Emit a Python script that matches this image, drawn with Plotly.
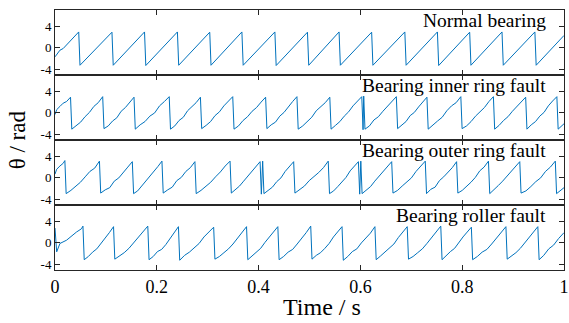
import plotly.graph_objects as go
from plotly.subplots import make_subplots

# ---------------- data ----------------
x_ticks = [0, 0.2, 0.4, 0.6, 0.8, 1.0]
x_ticktext = ["0", "0.2", "0.4", "0.6", "0.8", "1"]
y_tickvals = [-4, 0, 4]
y_ticktext = ["-4", "0", "4"]
panel_titles = ["Normal bearing", "Bearing inner ring fault",
                "Bearing outer ring fault", "Bearing roller fault"]

# Normal bearing
normal_start_t = [0.0, 0.0097, 0.0161]
normal_start_v = [-1.65, -0.42, -0.11]
normal_peak_t = [0.0466, 0.1119, 0.1759, 0.2405, 0.3040, 0.3672, 0.4320, 0.4960,
                 0.5581, 0.6221, 0.6873, 0.7513, 0.8147, 0.8782, 0.9428]
normal_peak_v = [2.95, 2.9, 2.95, 2.95, 2.9, 2.95, 2.95, 2.9, 2.95, 2.9, 2.95, 2.95, 2.9, 2.95, 2.95]
normal_trough_v = [-3.2, -3.2, -3.25, -3.2, -3.2, -3.2, -3.25, -3.2, -3.2, -3.2, -3.2, -3.25, -3.2, -3.2, -3.2]
normal_rise = [[], [], [], [], [], [], [], [], [], [], [], [], [], []]
normal_end_t = [1.0]
normal_end_v = [2.3]

# Inner ring fault
inner_start_t = [0.0, 0.0033, 0.0097, 0.0161, 0.0227, 0.0258]
inner_start_v = [-0.3, 0.6, 1.2, 1.8, 2.1, 2.4]
inner_peak_t = [0.0305, 0.0937, 0.1552, 0.2244, 0.2857, 0.3492, 0.4138, 0.4753, 0.5399,
                0.6027, 0.6065, 0.6706, 0.7307, 0.7973, 0.8613, 0.9247, 0.9860]
inner_peak_v = [2.9, 3.0, 2.9, 3.0, 2.9, 3.0, 2.9, 3.0, 2.9, 3.0, 3.1, 3.0, 2.9, 3.0, 3.0, 2.9, 3.0]
inner_trough_v = [-3.0, -2.9, -3.0, -3.0, -2.9, -3.0, -2.9, -3.0, -3.0, -3.1, -3.0, -2.9, -3.0,
                  -2.9, -3.0, -3.0, -3.0]
inner_rise = [
    [-2.3, -1.7, -0.7, 0.1, 1.2, 1.9],
    [-2.4, -1.5, -0.9, 0.3, 1.0, 2.0],
    [-2.2, -1.6, -0.6, 0.0, 1.3, 2.1],
    [-2.4, -1.4, -0.8, 0.4, 1.1, 1.9],
    [-2.3, -1.6, -0.5, 0.2, 1.3, 2.2],
    [-2.4, -1.4, -0.7, 0.3, 1.0, 2.0],
    [-2.2, -1.7, -0.6, 0.1, 1.2, 2.1],
    [-2.4, -1.5, -0.8, 0.4, 1.1, 1.9],
    [-2.3, -1.6, -0.6, 0.2, 1.3, 2.2],
    [],
    [-2.4, -1.3, -0.7, 0.3, 1.2, 2.0],
    [-2.3, -1.6, -0.5, 0.1, 1.1, 2.1],
    [-2.2, -1.5, -0.8, 0.4, 1.3, 1.9],
    [-2.4, -1.6, -0.6, 0.2, 1.0, 2.1],
    [-2.3, -1.4, -0.7, 0.3, 1.2, 2.0],
    [-2.2, -1.6, -0.6, 0.1, 1.3, 2.2],
]
inner_end_t = [1.0]
inner_end_v = [-2.0]

# Outer ring fault
outer_start_t = [0.0, 0.0033, 0.0097, 0.0161]
outer_start_v = [0.7, 1.6, 2.2, 2.7]
outer_peak_t = [0.0194, 0.0873, 0.1519, 0.2101, 0.2749, 0.3439, 0.4029, 0.4080, 0.4689,
                0.5368, 0.5961, 0.6008, 0.6615, 0.7274, 0.7890, 0.8516, 0.9131, 0.9829]
outer_peak_v = [3.2, 3.1, 3.0, 3.1, 3.0, 3.1, 3.0, 3.1, 3.0, 3.1, 3.0, 3.1, 3.0, 3.1, 3.0, 3.1, 3.0, 3.1]
outer_trough_v = [-2.9, -2.8, -2.9, -2.8, -2.9, -2.8, -3.0, -2.9, -2.8, -2.9, -3.0, -2.9, -2.8,
                  -2.9, -2.8, -2.9, -2.8, -2.9]
outer_rise = [
    [-2.3, -1.6, -0.8, 0.2, 1.2, 1.8],
    [-2.2, -1.8, -0.6, 0.0, 1.1, 2.0],
    [-2.4, -1.5, -0.7, 0.3, 1.0, 2.1],
    [-2.2, -1.7, -0.5, 0.1, 1.2, 1.9],
    [-2.3, -1.6, -0.8, 0.2, 1.1, 2.2],
    [-2.1, -1.5, -0.6, 0.3, 1.3, 2.1],
    [],
    [-2.3, -1.7, -0.7, 0.0, 1.2, 2.0],
    [-2.2, -1.5, -0.5, 0.2, 1.0, 1.9],
    [-2.4, -1.6, -0.8, 0.1, 1.3, 2.2],
    [],
    [-2.2, -1.6, -0.6, 0.3, 1.1, 2.0],
    [-2.3, -1.5, -0.7, 0.0, 1.2, 2.1],
    [-2.1, -1.7, -0.5, 0.2, 1.0, 1.9],
    [-2.3, -1.6, -0.8, 0.1, 1.3, 2.0],
    [-2.2, -1.4, -0.6, 0.3, 1.1, 2.2],
    [-2.4, -1.6, -0.7, 0.0, 1.2, 2.0],
]
outer_end_t = [1.0]
outer_end_v = [-1.8]

# Roller fault
roller_start_t = [0.0, 0.0033, 0.0097, 0.0227, 0.0421, 0.0518]
roller_start_v = [2.75, -1.65, -0.1, 0.5, 2.0, 2.6]
roller_peak_t = [0.0549, 0.1150, 0.1823, 0.2425, 0.3117, 0.3763, 0.4378, 0.5024,
                 0.5639, 0.6285, 0.6920, 0.7579, 0.8180, 0.8859, 0.9486]
roller_peak_v = [3.1, 3.0, 3.1, 3.0, 2.9, 3.0, 3.0, 3.1, 3.0, 3.0, 3.0, 3.1, 2.9, 3.0, 3.0]
roller_trough_v = [-3.1, -3.0, -3.1, -3.2, -3.0, -3.1, -3.1, -3.0, -3.2, -3.1, -3.0, -3.1, -3.1, -3.0, -3.1]
roller_rise = [
    [-2.5, -1.7, -1.1, -0.2, 0.9, 1.9],
    [-2.4, -1.8, -1.0, 0.0, 1.0, 2.0],
    [-2.5, -1.6, -1.2, -0.3, 0.8, 1.8],
    [-2.3, -1.7, -0.9, -0.1, 1.1, 2.1],
    [-2.5, -1.8, -1.1, -0.2, 0.9, 1.9],
    [-2.4, -1.6, -1.0, 0.1, 1.0, 2.0],
    [-2.5, -1.7, -1.2, -0.2, 0.8, 1.9],
    [-2.3, -1.8, -1.0, -0.1, 1.1, 2.0],
    [-2.5, -1.6, -1.1, 0.0, 0.9, 1.8],
    [-2.4, -1.7, -0.9, -0.2, 1.0, 2.1],
    [-2.5, -1.8, -1.1, -0.1, 0.9, 1.9],
    [-2.3, -1.6, -1.0, 0.1, 1.1, 2.0],
    [-2.5, -1.7, -1.2, -0.2, 0.8, 1.9],
    [-2.4, -1.8, -1.0, 0.0, 1.0, 2.1],
]
roller_end_t = [0.9602, 0.9700, 0.9796, 0.9893, 1.0]
roller_end_v = [-2.3, -1.1, -0.4, 0.8, 1.9]

DROP = 0.0025


def assemble(start_t, start_v, peak_t, peak_v, trough_v, rise, end_t, end_v):
    t = list(start_t)
    v = list(start_v)
    for k in range(len(peak_t)):
        t.append(peak_t[k]); v.append(peak_v[k])
        tt = peak_t[k] + DROP
        t.append(tt); v.append(trough_v[k])
        if k < len(peak_t) - 1:
            seg = rise[k]
            n = len(seg)
            t1 = peak_t[k + 1]
            for i, val in enumerate(seg):
                t.append(tt + (i + 1) / (n + 1) * (t1 - tt)); v.append(val)
    t += list(end_t)
    v += list(end_v)
    return t, v


series = [
    assemble(normal_start_t, normal_start_v, normal_peak_t, normal_peak_v, normal_trough_v,
             normal_rise, normal_end_t, normal_end_v),
    assemble(inner_start_t, inner_start_v, inner_peak_t, inner_peak_v, inner_trough_v,
             inner_rise, inner_end_t, inner_end_v),
    assemble(outer_start_t, outer_start_v, outer_peak_t, outer_peak_v, outer_trough_v,
             outer_rise, outer_end_t, outer_end_v),
    assemble(roller_start_t, roller_start_v, roller_peak_t, roller_peak_v, roller_trough_v,
             roller_rise, roller_end_t, roller_end_v),
]

# ---------------- figure ----------------
FONT = "Liberation Serif"
AX = "#262626"
fig = make_subplots(rows=4, cols=1, shared_xaxes=True, vertical_spacing=0)

for i, (t, v) in enumerate(series):
    fig.add_trace(go.Scatter(x=t, y=v, mode="lines",
                             line=dict(color="#0072BD", width=1),
                             showlegend=False, hoverinfo="skip"), row=i + 1, col=1)
    fig.update_yaxes(range=[-5, 7], tickvals=y_tickvals, ticktext=y_ticktext,
                     ticks="inside", ticklen=5, tickcolor=AX, tickwidth=1,
                     showline=True, linecolor=AX, linewidth=1, mirror="ticks",
                     showgrid=False, zeroline=False,
                     tickfont=dict(family=FONT, size=13, color="black"),
                     row=i + 1, col=1)
    fig.update_xaxes(range=[0, 1], tickvals=x_ticks, ticktext=x_ticktext,
                     ticks="inside", ticklen=5, tickcolor=AX, tickwidth=1,
                     showline=True, linecolor=AX, linewidth=1, mirror="ticks",
                     showgrid=False, zeroline=False,
                     showticklabels=(i == 3), ticklabeloverflow="allow",
                     tickfont=dict(family=FONT, size=18, color="black"),
                     row=i + 1, col=1)
    yname = "y" if i == 0 else "y%d" % (i + 1)
    fig.add_annotation(text=panel_titles[i], xref="paper", yref=yname + " domain",
                       x=0.968, y=1, xanchor="right", yanchor="top", yshift=2,
                       showarrow=False, font=dict(family=FONT, size=19.5, color="black"))

fig.add_annotation(text="Time / s", xref="paper", yref="paper", x=(325 - 55) / 514,
                   y=(270 - 307) / 260, xanchor="center", yanchor="middle", showarrow=False,
                   font=dict(family=FONT, size=24, color="black"))
fig.add_annotation(text="θ / rad", xref="paper", yref="paper", x=(17 - 55) / 514,
                   y=0.5, xanchor="center", yanchor="middle", textangle=-90, showarrow=False,
                   font=dict(family=FONT, size=23, color="black"))

fig.update_layout(width=569, height=323, margin=dict(l=55, r=0, t=10, b=53),
                  paper_bgcolor="white", plot_bgcolor="white")

fig.write_html("out.html")
